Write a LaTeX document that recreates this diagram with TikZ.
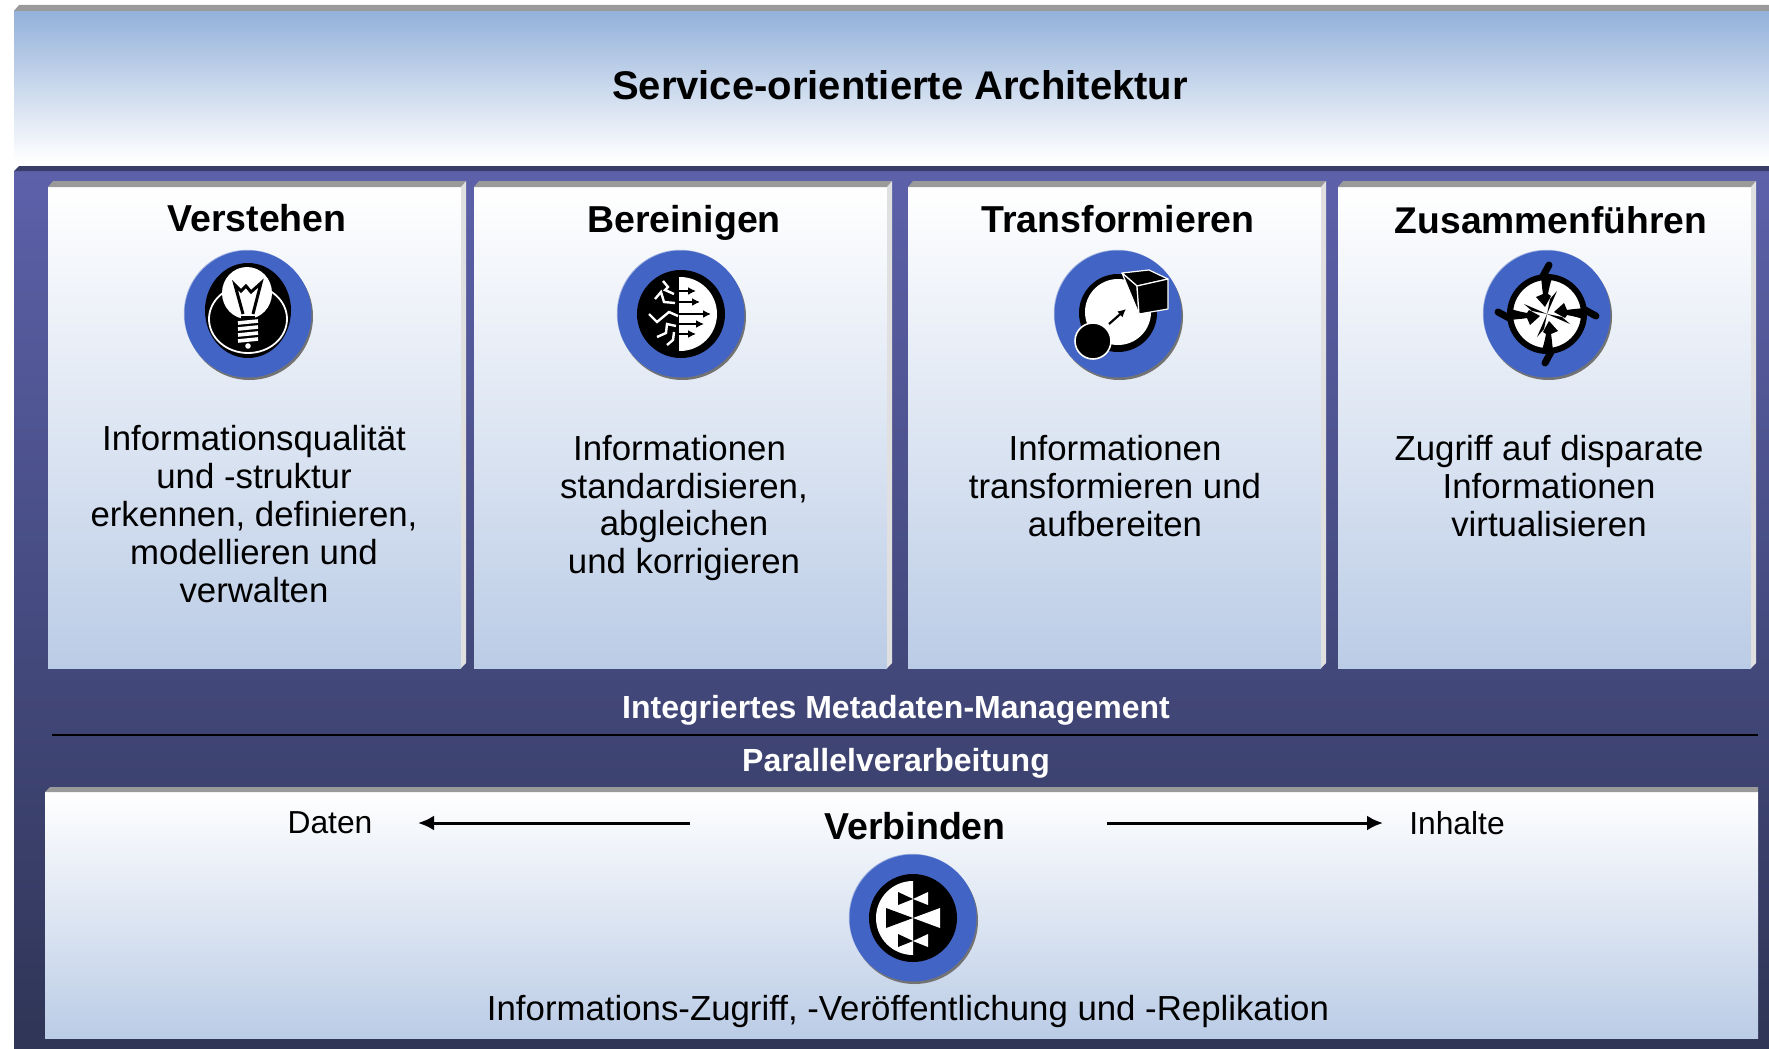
\documentclass[tikz,border=0pt]{standalone}
\usepackage{fontspec}
\usepackage{xcolor}
\setmainfont{Liberation Sans}
\usetikzlibrary{arrows.meta, positioning}
\definecolor{badgeblue}{HTML}{4264C4}
\definecolor{headblue}{HTML}{93B1DA}
\definecolor{panelTop}{HTML}{5C61AA}
\definecolor{panelBot}{HTML}{2F3556}
\definecolor{cardBot}{HTML}{BBCCE6}
\definecolor{bevelGrey}{HTML}{9A9A9A}
\definecolor{bevelLight}{HTML}{E0E0E0}

\begin{document}
\begin{tikzpicture}[x=1pt, y=-1pt]
\tikzstyle{plate} = [rectangle, anchor=north west, inner sep=0pt, outer sep=0pt, line width=0pt]
\tikzstyle{card} = [plate, minimum width=413pt, minimum height=481pt, top color=white, bottom color=cardBot]
\tikzstyle{title} = [font=\fontsize{37.5}{42}\selectfont\bfseries, inner sep=0pt]
\tikzstyle{body} = [font=\fontsize{34.8}{37.8}\selectfont, align=center, inner sep=0pt]
\tikzstyle{band} = [font=\fontsize{32}{36}\selectfont\bfseries, text=white, inner sep=0pt]
\tikzstyle{small} = [font=\fontsize{31.8}{36}\selectfont, inner sep=0pt]
\tikzstyle{badge} = [circle, minimum size=127pt, inner sep=0pt, fill=badgeblue,
    preaction={fill=black!55, transform canvas={xshift=1.5pt, yshift=-2.5pt}},
    preaction={fill=badgeblue!50, transform canvas={xshift=-0.7pt, yshift=0.7pt}}]
\tikzstyle{arrow} = [line width=3pt, -{Latex[length=16pt, width=15pt]}]
\useasboundingbox (0,0) rectangle (1769,1049);
\fill[white] (0,0) rectangle (1769,1049);

% Header
\node [plate, minimum width=1755pt, minimum height=150pt, top color=headblue, bottom color=white] (header) at (14,11) {};
\fill[bevelGrey] (header.north west) -- ++(5,-6) -- (1769,5) -- (1769,11) -- cycle;
\node [title, font=\fontsize{40}{44}\selectfont\bfseries] (architektur) at (900,85) {Service-orientierte Architektur};

% Panel
\node [plate, minimum width=1755pt, minimum height=878pt, top color=panelTop, bottom color=panelBot] (panel) at (14,171) {};
\fill[panelBot!80!panelTop] (panel.north west) -- ++(5,-5) -- (1769,166) -- (1769,171) -- cycle;

% Cards
\node [card] (cardA) at (48,187) {};
\node [card] (cardB) at (474,187) {};
\node [card] (cardC) at (908,187) {};
\node [card] (cardD) at (1338,187) {};
\foreach \c in {cardA, cardB, cardC, cardD} {
  \fill[bevelGrey] (\c.north west) -- ++(5,-6) -- ++(413,0) -- (\c.north east) -- cycle;
  \fill[bevelLight] (\c.north east) -- ++(5,-6) -- ++(0,482) -- (\c.south east) -- cycle;
}

\node [title] (verstehen) at (257,218) {Verstehen};
\node [title] (bereinigen) at (684,223) {Bereinigen};
\node [title] (transformieren) at (1118,219) {Transformieren};
\node [title, font=\fontsize{37.2}{42}\selectfont\bfseries] (zusammen) at (1551,220) {Zusammenführen};

\node [body] (textA) at (254,514) {Informationsqualität\\und -struktur\\erkennen, definieren,\\modellieren und\\verwalten};
\node [body] (textB) at (684,508) {Informationen\hspace*{9pt}\\standardisieren,\\abgleichen\\und korrigieren};
\node [body] (textC) at (1115,486) {Informationen\\transformieren und\\aufbereiten};
\node [body] (textD) at (1549,486) {Zugriff auf disparate\\Informationen\\virtualisieren};

% Bands
\node [band] (metadaten) at (896,710) {Integriertes Metadaten-Management};
\coordinate (lineL) at (52,735);
\coordinate (lineR) at (1758,735);
\draw [black, line width=1.6pt] (lineL) -- (lineR);
\node [band] (parallel) at (896,763) {Parallelverarbeitung};

% Connect plate
\node [plate, minimum width=1713pt, minimum height=246pt, top color=white, bottom color=cardBot] (cardE) at (45,792) {};
\fill[bevelGrey] (cardE.north west) -- ++(5,-5) -- ++(1708,0) -- (cardE.north east) -- cycle;
\node [title] (verbinden) at (915,826) {Verbinden};
\node [small] (daten) at (330,823) {Daten};
\node [small] (inhalte) at (1457,823) {Inhalte};
\node [body] (textE) at (908,1011) {Informations-Zugriff, -Veröffentlichung und -Replikation};
\coordinate (datenS) at (690,823);
\coordinate (datenE) at (418,823);
\coordinate (inhalteS) at (1107,823);
\coordinate (inhalteE) at (1383,823);
\draw [arrow] (datenS) -- (datenE);
\draw [arrow] (inhalteS) -- (inhalteE);

% Badges
\node [badge] (iconA) at (248,314) {};
\node [badge] (iconB) at (681,314) {};
\node [badge] (iconC) at (1118,314) {};
\node [badge] (iconD) at (1547,314) {};
\node [badge] (iconE) at (913,918) {};

% Bulb
\begin{scope}[shift={(iconA.center)}]
  \fill[black] (0,-3.5) ellipse (43 and 47.5);
  \draw[white, line width=1.8pt] (0,5) ellipse (39 and 34);
  \fill[white] (-1,-21) ellipse (25 and 26);
  \draw[black, line width=3pt, line join=miter] (-5,0) -- (-13,-29) -- (-7,-23) -- (-2,-28) -- (3,-22) -- (13,-31) -- (5,0);
  \fill[black] (-7,2) rectangle (7,6);
  \foreach \y in {8,14,20,26} {
    \draw[white, line width=3.6pt] (-10,\y+1) -- (10,\y-1);
  }
  \fill[white] (0,32) circle (2.8);
\end{scope}

% Filter
\begin{scope}[shift={(iconB.center)}]
  \fill[black] (0,0) circle (44);
  \begin{scope}
    \clip (-2,-40) rectangle (40,40);
    \fill[white] (-1,0) circle (37);
  \end{scope}
  \foreach \a/\b in {-23/15, -12/19, 0/30, 10/23, 20/15} {
    \draw[black, line width=2.2pt, -{Latex[length=8pt, width=8pt]}] (-2,\a) -- (\b,\a);
  }
  \draw[white, line width=2.4pt] (-18,-33) -- (-13,-27) -- (-16,-24) -- (-7,-20);
  \draw[white, line width=2.4pt] (-26,-15) -- (-20,-22) -- (-17,-12) -- (-6,-11);
  \draw[white, line width=2.4pt] (-32,0) -- (-24,8) -- (-12,-2) -- (-3,2);
  \draw[white, line width=2.4pt] (-24,23) -- (-15,19) -- (-14,10) -- (-5,12);
  \draw[white, line width=2.4pt] (-14,31) -- (-8,26) -- (-7,18);
\end{scope}

% Cube
\begin{scope}[shift={(iconC.center)}]
  \fill[black] (0,-1) circle (39);
  \fill[white] (0,-2) circle (33);
  \draw[black, line width=2.2pt, -{Latex[length=8pt, width=8pt]}] (-9,10) -- (8,-5);
  \draw[white, line width=1.2pt, fill=black, line join=round] (4,-41) -- (31,-44) -- (50,-35) -- (19,-28) -- cycle;
  \draw[white, line width=1.2pt, fill=black, line join=round] (4,-41) -- (19,-28) -- (21,0) -- cycle;
  \draw[white, line width=1.2pt, fill=black, line join=round] (19,-28) -- (50,-35) -- (50,-5) -- (21,0) -- cycle;
  \draw[white, line width=1.6pt, fill=black] (-25,27) circle (18);
\end{scope}

% Pinwheel
\begin{scope}[shift={(iconD.center)}]
  \draw[black, line width=6pt, fill=white] (0,0) circle (37);
  \foreach \r in {0, 90, 180, 270} {
    \begin{scope}[rotate=\r]
      \draw[black, line width=7pt, line cap=round] (-4,-38) -- (2,-49);
      \fill[black] (-6,-36) .. controls (-5,-30) and (-5,-25) .. (-4,-20)
        -- (-11,-17) -- (-2,-7) -- (4,-18) -- (1,-20)
        .. controls (2,-25) and (3,-30) .. (5,-36) -- cycle;
      \fill[black] (0,0) -- (-23,-10) -- (-15,-3) -- cycle;
    \end{scope}
  }
\end{scope}

% Bowties
\begin{scope}[shift={(iconE.center)}]
  \fill[black] (0,0) circle (44);
  \begin{scope}
    \clip (-39,-44) rectangle (0,44);
    \fill[white] (0,0) circle (37);
  \end{scope}
  \fill[black] (-15,-26) -- (-15,-13) -- (0,-19) -- cycle;
  \fill[white] (0,-19) -- (15,-26) -- (15,-13) -- cycle;
  \fill[black] (-27,-10) -- (-27,10) -- (0,0) -- cycle;
  \fill[white] (0,0) -- (27,-10) -- (27,10) -- cycle;
  \fill[black] (-15,16) -- (-15,29) -- (0,23) -- cycle;
  \fill[white] (0,23) -- (15,16) -- (15,29) -- cycle;
\end{scope}
\end{tikzpicture}
\end{document}
